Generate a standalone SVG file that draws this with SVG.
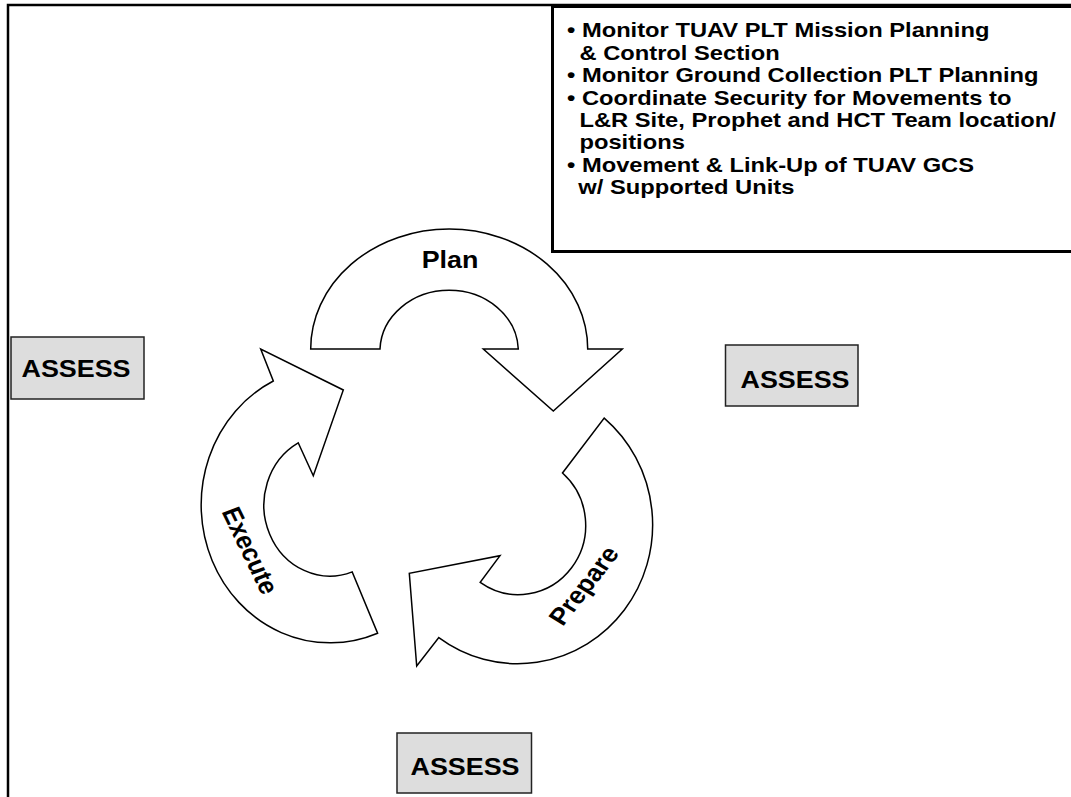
<svg xmlns="http://www.w3.org/2000/svg" width="1071" height="797" viewBox="0 0 1071 797">
  <style>
    .frame { fill: none; stroke: #000; stroke-width: 2.5; }
    .panel { fill: #fff; stroke: #000; stroke-width: 3; }
    .arc { fill: #fff; stroke: #000; stroke-width: 1.5; stroke-linejoin: miter; }
    .box { fill: #ddd; stroke: #222; stroke-width: 1.5; }
    text { font-family: "Liberation Sans", Arial, sans-serif; font-weight: bold; fill: #000; }
    .t21 { font-size: 21px; }
    .t24 { font-size: 24px; }
  </style>

  <rect width="1071" height="797" fill="#fff"/>

  <!-- page frame -->
  <g id="frame">
    <rect class="frame" x="8" y="5" width="1100" height="820"/>
  </g>

  <!-- task list panel -->
  <g id="tasks">
    <rect class="panel" x="552.5" y="6.5" width="540" height="245"/>
    <g transform="translate(567 0) scale(1.13 1)">
      <text class="t21" x="0" y="37.5">• Monitor TUAV PLT Mission Planning</text>
      <text class="t21" x="11" y="59.9">&amp; Control Section</text>
      <text class="t21" x="0" y="82.3">• Monitor Ground Collection PLT Planning</text>
      <text class="t21" x="0" y="104.7">• Coordinate Security for Movements to</text>
      <text class="t21" x="11" y="127.1">L&amp;R Site, Prophet and HCT Team location/</text>
      <text class="t21" x="11" y="149.5">positions</text>
      <text class="t21" x="0" y="171.9">• Movement &amp; Link-Up of TUAV GCS</text>
      <text class="t21" x="10" y="194.3">w/ Supported Units</text>
    </g>
  </g>

  <!-- Plan -->
  <g id="plan">
    <path class="arc" d="M 310.7,349 A 138.5 120 0 0 1 587.7,349 L 622.3,349 L 553.3,411 L 483.3,349 L 518.3,349 A 69.2 61 0 0 0 380,349 Z"/>
    <text class="t24" text-anchor="middle" transform="translate(450 268.3) scale(1.12 1)">Plan</text>
  </g>

  <!-- Prepare -->
  <g id="prepare">
    <path class="arc" d="M 604.2,418.1 A 135 139 0 0 1 438.8,637.6 L 416.7,666 L 409.3,573.3 L 500,555.7 L 480.2,582.4 A 67.3 69.3 0 0 0 562.5,473 Z"/>
    <text class="t24" text-anchor="middle" y="8" transform="translate(584 585.7) scale(1.13 1) rotate(-55.3)">Prepare</text>
  </g>

  <!-- Execute -->
  <g id="execute">
    <path class="arc" d="M 377.6,633.2 A 129 138 0 0 1 273.3,381 L 260.7,349 L 343.3,390 L 313.3,475.7 L 298.2,442.8 A 66 71 0 0 0 352.2,571.9 Z"/>
    <text class="t24" text-anchor="middle" y="8" transform="translate(250 550.7) scale(1.13 1) rotate(66.7)">Execute</text>
  </g>

  <!-- assessment points -->
  <g id="assess-left">
    <rect class="box" x="11" y="337" width="133" height="62"/>
    <text class="t24" text-anchor="middle" transform="translate(76 377.3) scale(1.12 1)">ASSESS</text>
  </g>
  <g id="assess-right">
    <rect class="box" x="725.5" y="345" width="132.5" height="61"/>
    <text class="t24" text-anchor="middle" transform="translate(795 387.7) scale(1.12 1)">ASSESS</text>
  </g>
  <g id="assess-bottom">
    <rect class="box" x="397" y="733" width="134.5" height="60"/>
    <text class="t24" text-anchor="middle" transform="translate(465 775) scale(1.12 1)">ASSESS</text>
  </g>
</svg>
